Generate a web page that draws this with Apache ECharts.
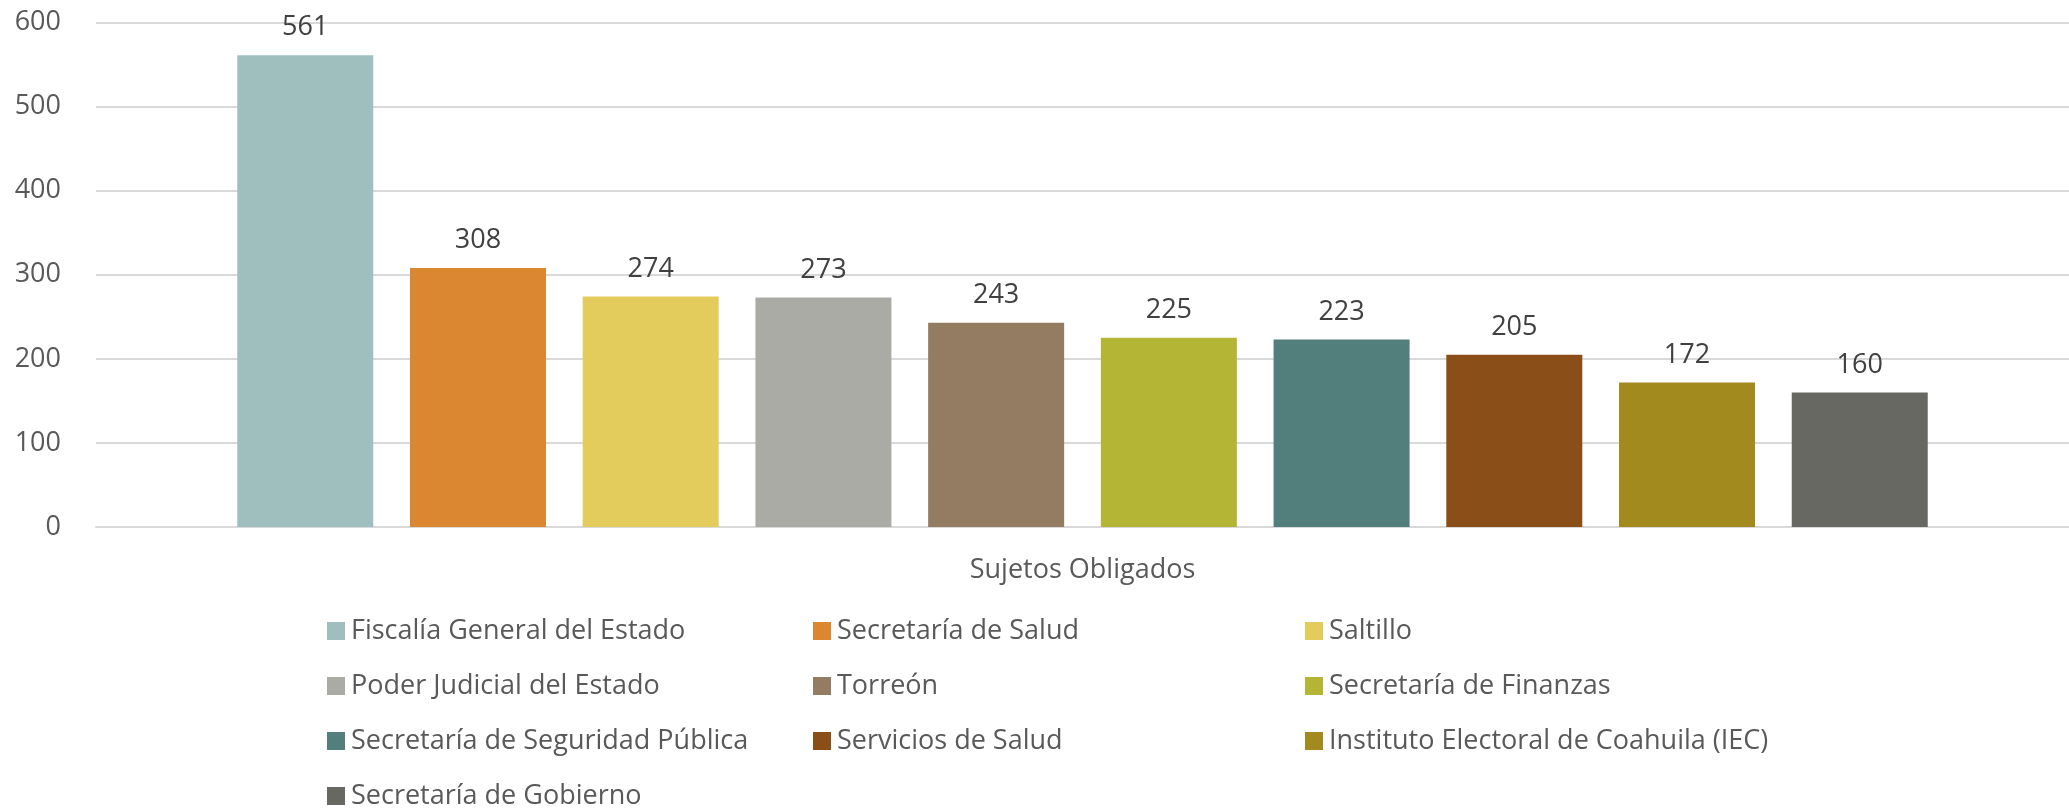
<!DOCTYPE html>
<html><head><meta charset="utf-8">
<script src="https://cdn.jsdelivr.net/npm/echarts@6/dist/echarts.min.js"></script>
<style>html,body{margin:0;padding:0;background:#fff}#c{width:2069px;height:808px}</style>
</head><body><div id="c"></div>
<script>
const categories = ["Sujetos Obligados"];
const seriesNames = ["Fiscalía General del Estado","Secretaría de Salud","Saltillo","Poder Judicial del Estado","Torreón","Secretaría de Finanzas","Secretaría de Seguridad Pública","Servicios de Salud","Instituto Electoral de Coahuila (IEC)","Secretaría de Gobierno"];
const seriesValues = [561,308,274,273,243,225,223,205,172,160];
const colors = ["#9FBFBE","#DB8631","#E3CB5C","#ABABA6","#937C62","#B4B535","#527E7C","#8A4F18","#A38A1E","#686863"];
const yTicks = {min:0,max:600,interval:100};

const FONT = "'Open Sans', sans-serif";
const FS = 27;
const chart = echarts.init(document.getElementById('c'));
const series = seriesNames.map((n,i)=>({
  name:n, type:'bar', data:[seriesValues[i]], barWidth:136, barGap:'27%',
  itemStyle:{color:colors[i]},
  label:{show:true, position:'top', distance:14, color:'#404040', fontSize:FS, fontFamily:FONT}
}));
function legendCol(idx,left,top){
  return {orient:'vertical', left:left, top:top, itemWidth:18, itemHeight:18, itemGap:55-FS, icon:'rect',
    data: idx.map(i=>seriesNames[i]), textStyle:{color:'#595959', fontSize:FS, fontFamily:FONT, padding:[0,0,0,1]}};
}
const legTop = 626 - FS/2;
chart.setOption({
  animation:false,
  grid:{left:96, right:0, top:22.5, bottom:281, containLabel:false},
  legend:[legendCol([0,3,6],322,legTop), legendCol([9],322,legTop+165), legendCol([1,4,7],808,legTop), legendCol([2,5,8],1300,legTop)],
  xAxis:{type:'category', data:categories, axisTick:{show:false},
    axisLine:{lineStyle:{color:'#D9D9D9', width:2}},
    axisLabel:{color:'#595959', fontSize:FS, fontFamily:FONT, margin:30}},
  yAxis:{type:'value', min:yTicks.min, max:yTicks.max, interval:yTicks.interval,
    axisLine:{show:false}, axisTick:{show:false},
    splitLine:{lineStyle:{color:'#D9D9D9', width:2}},
    axisLabel:{color:'#595959', fontSize:FS, fontFamily:FONT, margin:35}},
  series: series
});
</script></body></html>
